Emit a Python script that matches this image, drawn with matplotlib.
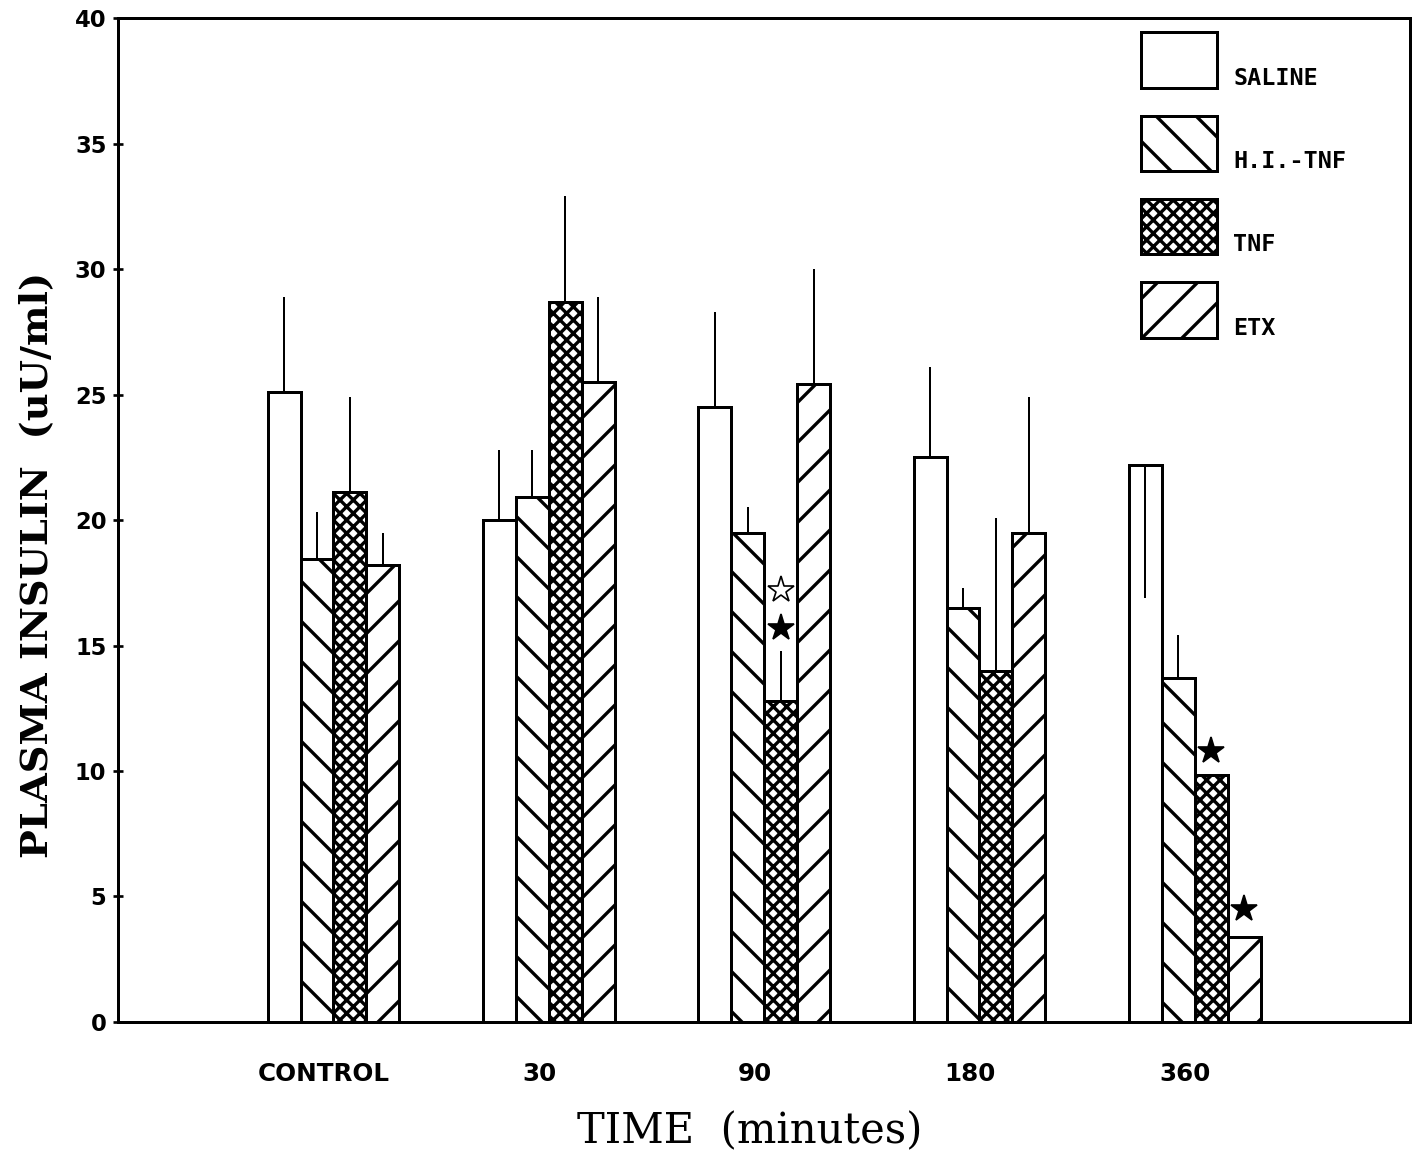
import matplotlib
matplotlib.use("Agg")
import matplotlib.pyplot as plt
import numpy as np

groups = ["CONTROL", "30", "90", "180", "360"]
series = ["SALINE", "H.I.-TNF", "TNF", "ETX"]
hatches = ["", "\\\\", "xxxxxx", "//"]

saline = [25.1, 20.0, 24.5, 22.5, 22.2]
hi_tnf = [18.45, 20.9, 19.5, 16.5, 13.7]
tnf = [21.1, 28.7, 12.8, 14.0, 9.85]
etx = [18.2, 25.5, 25.4, 19.5, 3.4]

# upper / lower error extents
saline_up = [3.8, 2.8, 3.8, 3.6, 0.0]
saline_lo = [0.0, 0.0, 0.0, 0.0, 5.3]
hi_up = [1.85, 1.9, 1.0, 0.8, 1.7]
tnf_up = [3.8, 4.2, 2.0, 6.1, 0.0]
etx_up = [1.3, 3.4, 4.6, 5.4, 0.0]

# significance stars: (group index, series index, y, filled)
star_group = [2, 2, 4, 4]
star_series = [2, 2, 2, 3]
star_y = [17.2, 15.7, 10.8, 4.5]
star_filled = [False, True, True, True]

DPI = 240
plt.rcParams["hatch.linewidth"] = 1.0
fig = plt.figure(figsize=(1423 / DPI, 1164 / DPI), dpi=DPI)
ax = fig.add_axes([0.083, 0.122, 0.908, 0.8625])

w = 0.153
x = np.arange(len(groups))
values = [saline, hi_tnf, tnf, etx]
ups = [saline_up, hi_up, tnf_up, etx_up]
los = [saline_lo, [0] * 5, [0] * 5, [0] * 5]

for j, (vals, h, name) in enumerate(zip(values, hatches, series)):
    xs = x + (j - 1.5) * w
    ax.bar(xs, vals, width=w, color="white", edgecolor="black",
           linewidth=0.9, hatch=h, label=name, zorder=2)
    ax.errorbar(xs, vals, yerr=[los[j], ups[j]], fmt="none", ecolor="black",
                elinewidth=0.6, capsize=0, zorder=3)

for g, s, yv, f in zip(star_group, star_series, star_y, star_filled):
    ax.plot(g + (s - 1.5) * w, yv, marker="*", markersize=8.5,
            markerfacecolor="black" if f else "white",
            markeredgecolor="black", markeredgewidth=0.5, zorder=4)

ax.set_xlim(-1, 5)
ax.set_ylim(0, 40)
ax.set_yticks(np.arange(0, 41, 5))
ax.set_xticks(x - 0.045)
ax.set_xticklabels(groups)
ax.tick_params(axis="x", length=0, pad=12)
ax.tick_params(axis="y", direction="inout", length=3, width=0.8, pad=2)
for lab in ax.get_xticklabels():
    lab.set_fontfamily("DejaVu Sans")
    lab.set_fontweight("bold")
    lab.set_fontsize(7.4)
for lab in ax.get_yticklabels():
    lab.set_fontfamily("DejaVu Sans")
    lab.set_fontweight("bold")
    lab.set_fontsize(6.8)
for sp in ax.spines.values():
    sp.set_linewidth(0.9)

ax.set_xlabel("TIME  (minutes)", fontsize=12.5, family="DejaVu Serif")
ax.xaxis.set_label_coords(0.489, -0.088)
ax.set_ylabel("PLASMA INSULIN  (uU/ml)", fontsize=11.5, family="DejaVu Serif",
              fontweight="bold")
ax.yaxis.set_label_coords(-0.049, 0.455)

leg = ax.legend(loc="upper left", bbox_to_anchor=(0.7845, 0.995), frameon=False,
                handlelength=3.25, handleheight=3.27, labelspacing=1.2,
                handletextpad=0.7, borderaxespad=0.0,
                prop={"family": "DejaVu Sans Mono", "weight": "bold", "size": 7})
for t in leg.get_texts():
    t.set_va("top")

fig.savefig("out.png", dpi=DPI)
